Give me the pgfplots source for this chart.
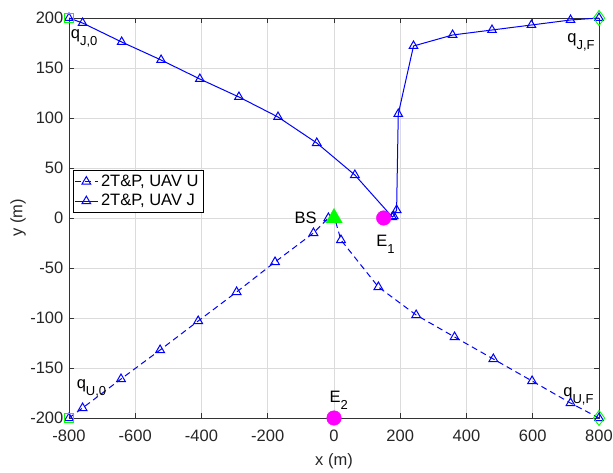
\documentclass[border=0pt]{standalone}
\usepackage{fontspec}
\setmainfont{Liberation Sans}
\usepackage{pgfplots}
\pgfplotsset{compat=1.18}
\definecolor{mgreen}{rgb}{0,1,0}
\definecolor{mmag}{rgb}{1,0,1}
\newcommand{\sub}[1]{\raisebox{-7pt}{\fontsize{13}{15}\selectfont #1}}
\begin{document}
\fontsize{16.5}{19}\selectfont
\begin{tikzpicture}
\begin{axis}[
 scale only axis, width=530pt, height=400pt,
 xmin=-800, xmax=800, ymin=-200, ymax=200,
 xtick={-800,-600,...,800}, ytick={-200,-150,...,200},
 grid=major, major grid style={color=black!14, line width=0.6pt},
 axis line style={color=black!80, line width=0.6pt},
 tick align=inside, major tick length=5pt,
 tick style={color=black!80, line width=0.6pt},
 font=\fontsize{16.5}{19}\selectfont,
 /pgf/number format/assume math mode=true,
 ticklabel style={font=\fontsize{16.5}{19}\selectfont, color=black!85},
 xticklabel style={yshift=-6pt},
 xlabel={x (m)}, ylabel={y (m)},
 xlabel style={at={(axis description cs:0.5,-0.1075)}, anchor=center, color=black!85},
 ylabel style={at={(axis description cs:-0.0962,0.5)}, anchor=center, color=black!85},
 legend style={at={(axis description cs:0.007,0.62)}, anchor=north west, draw=black, line width=0.5pt,
   font=\fontsize{16.5}{19}\selectfont, inner sep=1.5pt, row sep=0pt, nodes={inner sep=2.8pt}},
 legend cell align=left,
 legend image code/.code={\draw[mark repeat=2,mark phase=2,#1] plot coordinates {(0cm,0cm)(0.4cm,0cm)(0.8cm,0cm)};},
 clip=false,
]
\coordinate (bl) at (rel axis cs:0,0);
\coordinate (tr) at (rel axis cs:1,1);
% UAV U
\addplot[blue, line width=1pt, dash pattern=on 6pt off 4pt, mark=triangle, mark size=5pt, mark options={solid, line width=1pt}]
 coordinates {(-800,-200) (-759,-190) (-643,-161) (-525,-132) (-410,-103) (-294,-74) (-178,-44) (-62,-15) (-17,0) (0,2) (21,-22) (134,-69) (248,-97) (364,-119) (481,-141) (598,-163) (714,-185) (800,-200)};
\addlegendentry{2T\&P, UAV U}
% UAV J
\addplot[blue, line width=1pt, mark=triangle, mark size=5pt, mark options={solid, line width=1pt}]
 coordinates {(-800,200) (-759,195) (-641,176) (-522,158) (-405,139) (-287,121) (-169,101) (-52,75) (63,43) (176,1) (180,2) (189,8) (194,104) (240,172) (358,183) (477,188) (596,193) (714,198) (800,200)};
\addlegendentry{2T\&P, UAV J}
% BS
\addplot[forget plot, only marks, mark=triangle*, mark size=9.5pt, color=mgreen, mark options={fill=mgreen, draw=mgreen}] coordinates {(0,0)};
% Eavesdroppers
\addplot[forget plot, only marks, mark=*, mark size=7.3pt, color=mmag, mark options={fill=mmag, draw=mmag}] coordinates {(150,0) (0,-200)};
% start / end
\addplot[forget plot, only marks, mark=square, mark size=4.6pt, color=mgreen, mark options={line width=0.9pt}] coordinates {(-800,200) (-800,-200)};
\addplot[forget plot, only marks, mark=diamond, mark size=7.5pt, color=mgreen, mark options={line width=0.9pt}] coordinates {(800,200) (800,-200)};
% labels
\node[anchor=base west, inner sep=0] at (axis cs:-795,179) {q\sub{J,0}};
\node[anchor=base west, inner sep=0] at (axis cs:704,175) {q\sub{J,F}};
\node[anchor=base west, inner sep=0] at (axis cs:-777,-170) {q\sub{U,0}};
\node[anchor=base west, inner sep=0] at (axis cs:692,-178) {q\sub{U,F}};
\node[anchor=base east, inner sep=0] at (axis cs:-52,-5) {BS};
\node[anchor=base west, inner sep=0] at (axis cs:127,-28) {E\sub{1}};
\node[anchor=base west, inner sep=0] at (axis cs:-14,-184) {E\sub{2}};
\end{axis}
\pgfresetboundingbox
\useasboundingbox ([shift={(-69pt,-54pt)}]bl) rectangle ([shift={(14pt,18pt)}]tr);
\end{tikzpicture}
\end{document}
